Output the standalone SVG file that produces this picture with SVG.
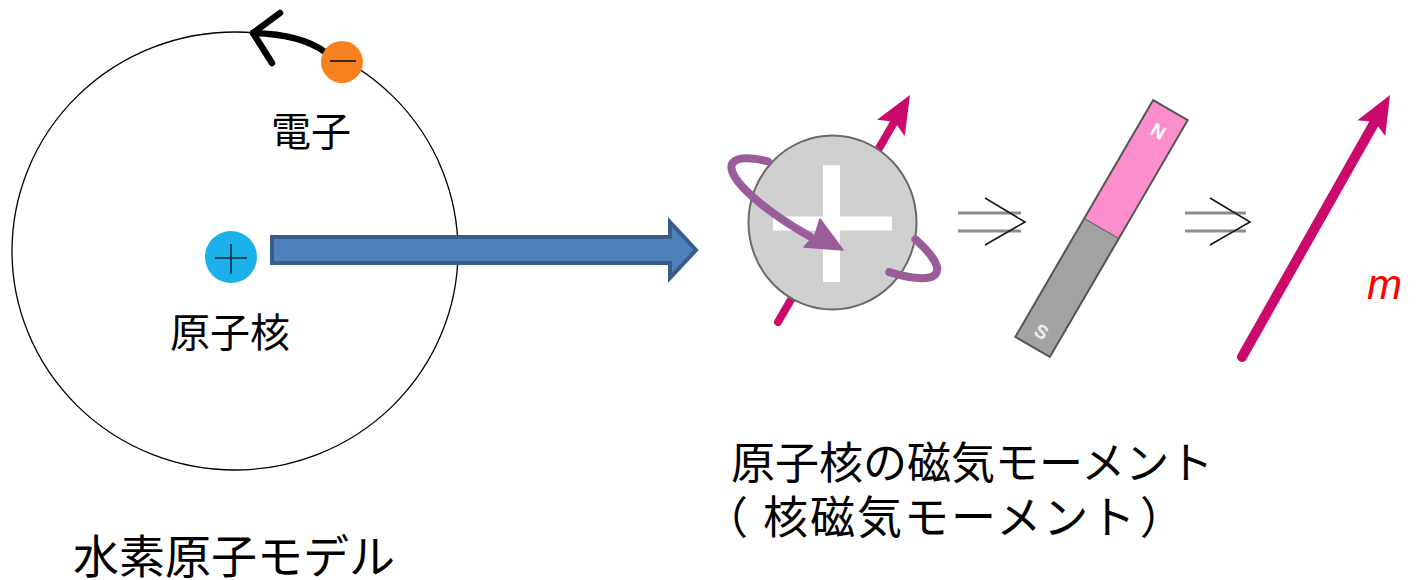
<svg xmlns="http://www.w3.org/2000/svg" width="1416" height="580" viewBox="0 0 1416 580">
  <style>
    .jp { font-family: "Noto Sans CJK JP", "Noto Sans", sans-serif; fill: #000; }
    .orbit { fill: none; stroke: #000; stroke-width: 1.3; }
    .spin { fill: none; stroke: #9b5c9c; stroke-width: 8; stroke-linecap: round; }
    .moment { fill: none; stroke: #cc0a6c; stroke-linecap: round; }
    .imp-line { stroke: #8c8c8c; stroke-width: 3; }
    .imp-head { fill: none; stroke: #1a1a1a; stroke-width: 1.6; }
    .pole { font-family: "Liberation Sans", Arial, sans-serif; font-size: 19px; font-weight: bold; text-anchor: middle; }
  </style>
  <defs>
    <marker id="momentHead" markerUnits="userSpaceOnUse" markerWidth="44" markerHeight="36" refX="9" refY="16" orient="auto" overflow="visible">
      <path d="M40,16 L2,0 L9,16 L2,32 Z" fill="#cc0a6c"/>
    </marker>
  </defs>

  <rect width="1416" height="580" fill="#fff"/>

  <!-- Hydrogen atom model -->
  <g id="atom">
    <ellipse class="orbit" cx="235" cy="251" rx="223" ry="219"/>
  </g>

  <g id="electron">
    <path d="M325,52 C310,41 288,34 253,33" fill="none" stroke="#000" stroke-width="6.5" stroke-linecap="round"/>
    <path d="M280,13 L253,33 L272,63" fill="none" stroke="#000" stroke-width="6.5" stroke-linecap="round" stroke-linejoin="round"/>
    <circle cx="342" cy="62" r="21" fill="#f7811e"/>
    <line x1="330" y1="61" x2="356" y2="61" stroke="#3a2a1a" stroke-width="2"/>
    <text class="jp" x="271" y="146" font-size="40">電子</text>
  </g>

  <g id="nucleus">
    <circle cx="231" cy="257" r="26" fill="#1cb0ea"/>
    <line x1="231" y1="244" x2="231" y2="274" stroke="#1a2a3a" stroke-width="1.6"/>
    <line x1="215" y1="258" x2="247" y2="258" stroke="#1a2a3a" stroke-width="1.6"/>
    <text class="jp" x="170" y="347" font-size="40">原子核</text>
  </g>

  <g id="atom-caption">
    <text class="jp" x="73" y="573" font-size="46">水素原子モデル</text>
  </g>

  <!-- connectors -->
  <g id="connectors">
    <path d="M272,237 L670,237 L670,222 L696,250 L670,278 L670,263 L272,263 Z" fill="#4f81bd" stroke="#385d8a" stroke-width="4" stroke-linejoin="miter"/>
    <g id="implies-1">
      <line class="imp-line" x1="958" y1="213" x2="1021" y2="213"/>
      <line class="imp-line" x1="958" y1="231" x2="1021" y2="231"/>
      <polyline class="imp-head" points="985,198 1025,222 985,245"/>
    </g>
    <g id="implies-2">
      <line class="imp-line" x1="1185" y1="213" x2="1246" y2="213"/>
      <line class="imp-line" x1="1185" y1="231" x2="1246" y2="231"/>
      <polyline class="imp-head" points="1210,198 1250,222 1210,245"/>
    </g>
  </g>

  <!-- Spinning nucleus -->
  <g id="spinning-nucleus">
    <line class="moment" x1="778" y1="322" x2="894.4" y2="121.8" stroke-width="8" marker-end="url(#momentHead)"/>
    <ellipse cx="832.5" cy="222.5" rx="84" ry="87" fill="#d0d0d0" stroke="#6a6a6a" stroke-width="2"/>
    <rect x="823" y="165" width="17" height="117" fill="#fff"/>
    <rect x="773" y="216.5" width="119" height="14" fill="#fff"/>
    <path class="spin" d="M767.8,161.3 A117,28 28 0 0 810,236.5"/>
    <path d="M843,250 L804,247 L815,235 L820,219 Z" fill="#9b5c9c" stroke="#9b5c9c" stroke-width="1.5" stroke-linejoin="round"/>
    <path class="spin" d="M889.3,272.2 A117,28 28 0 0 915.3,239.3"/>
  </g>

  <!-- Bar magnet -->
  <g id="magnet" transform="translate(1101.5,228.5) rotate(30.2)">
    <rect x="-20" y="-137" width="40" height="137" fill="#fb8ecb"/>
    <rect x="-20" y="0" width="40" height="137" fill="#a3a3a3"/>
    <rect x="-20" y="-137" width="40" height="274" fill="none" stroke="#555" stroke-width="2"/>
    <line x1="-20" y1="0" x2="20" y2="0" stroke="#666" stroke-width="1.2"/>
    <text class="pole" x="0" y="-106" fill="#fff">N</text>
    <text class="pole" x="0" y="126" fill="#eee">S</text>
  </g>

  <!-- Moment vector -->
  <g id="moment-vector">
    <line class="moment" x1="1242" y1="357" x2="1374.8" y2="122" stroke-width="10" marker-end="url(#momentHead)"/>
    <text x="1367" y="299" font-family="Liberation Sans, Arial, sans-serif" font-size="42" font-style="italic" fill="#ff0000">m</text>
  </g>

  <g id="moment-caption">
    <text class="jp" font-size="44">
      <tspan x="731" y="479">原子核の磁気モーメント</tspan>
      <tspan x="704" y="534">（</tspan><tspan x="763" y="534" font-size="45" letter-spacing="2">核磁気モーメント</tspan><tspan x="1140" y="534">）</tspan>
    </text>
  </g>
</svg>
